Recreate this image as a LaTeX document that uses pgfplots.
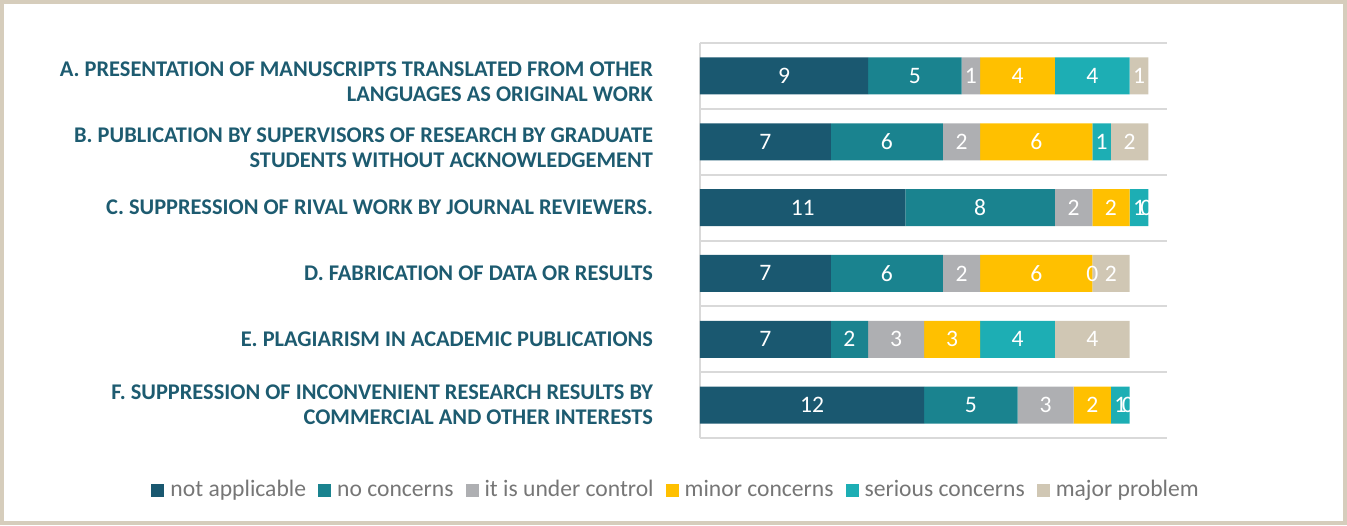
\documentclass[border=0pt]{standalone}
\usepackage{fontspec}
\setmainfont{Carlito}
\usepackage{pgfplots}
\pgfplotsset{compat=1.18}
\definecolor{cNA}{HTML}{1A5870}
\definecolor{cNo}{HTML}{1A838F}
\definecolor{cCtrl}{HTML}{AEAFB2}
\definecolor{cMinor}{HTML}{FFC000}
\definecolor{cSerious}{HTML}{1DAEB4}
\definecolor{cMajor}{HTML}{D0C7B4}
\definecolor{cLabel}{HTML}{1D5B70}
\definecolor{cGrid}{HTML}{D9D9D9}
\definecolor{cFrame}{HTML}{D6CDBC}
\definecolor{cLegend}{HTML}{767676}
\tikzset{lbl/.style={anchor=center, text=white, font=\fontsize{11.8}{13}\selectfont}}
\pgfplotsset{
  base/.style={
    at={(0,0)}, anchor=south west,
    scale only axis, width=233.5pt, height=197.5pt,
    xmin=0, xmax=25, ymin=-0.5, ymax=5.5, y dir=reverse,
    enlargelimits=false,
  },
  bars/.style={xbar stacked, bar width=18.5pt},
}
\pgfplotstableread{
y  na no ctrl minor serious major
0  9  5  1    4     4       1
1  7  6  2    6     1       2
2  11 8  2    2     1       0
3  7  6  2    6     0       2
4  7  2  3    3     4       4
5  12 5  3    2     1       0
}\data
\newcommand{\st}{\rule{0pt}{13.2pt}}
\begin{document}
\begin{tikzpicture}
\useasboundingbox (-350pt,-43.5pt) rectangle (323.5pt,219pt);
\draw[cFrame, line width=1.6pt] (-349pt,-42.5pt) rectangle (322.5pt,218pt);
\begin{axis}[
  base, bars,
  axis line style={draw=none}, tick style={draw=none},
  xtick={0}, xticklabels={}, xmajorgrids,
  ytick={0,1,2,3,4,5},
  minor ytick={-0.5,0.5,1.5,2.5,3.5,4.5,5.5}, yminorgrids,
  major grid style={cGrid, line width=1pt},
  minor grid style={cGrid, line width=1pt},
  yticklabels={
    {\st A. PRESENTATION OF MANUSCRIPTS TRANSLATED FROM OTHER\\LANGUAGES AS ORIGINAL WORK},
    {\st B. PUBLICATION BY SUPERVISORS OF RESEARCH BY GRADUATE\\STUDENTS WITHOUT ACKNOWLEDGEMENT},
    {C. SUPPRESSION OF RIVAL WORK BY JOURNAL REVIEWERS.},
    {D. FABRICATION OF DATA OR RESULTS},
    {E. PLAGIARISM IN ACADEMIC PUBLICATIONS},
    {F. SUPPRESSION OF INCONVENIENT RESEARCH RESULTS BY\\COMMERCIAL AND OTHER INTERESTS}},
  yticklabel style={align=right, anchor=east, xshift=-20pt, text=cLabel,
    font=\fontsize{11.2}{12.5}\selectfont\bfseries},
  legend style={at={(-0.049,-0.134)}, anchor=center, draw=none, fill=none,
    legend columns=6, font=\fontsize{11.8}{13}\selectfont, text=cLegend,
    nodes={text height=1.6ex, text depth=0.4ex},
    /tikz/every even column/.append style={column sep=4pt},
    /tikz/every odd column/.append style={column sep=1pt}},
  legend image code/.code={\fill[#1] (0pt,-3pt) rectangle (6.5pt,3.5pt);},
]
\addplot[fill=cNA, draw=none] table[x=na, y=y] {\data};
\addplot[fill=cNo, draw=none] table[x=no, y=y] {\data};
\addplot[fill=cCtrl, draw=none] table[x=ctrl, y=y] {\data};
\addplot[fill=cMinor, draw=none] table[x=minor, y=y] {\data};
\addplot[fill=cSerious, draw=none] table[x=serious, y=y] {\data};
\addplot[fill=cMajor, draw=none] table[x=major, y=y] {\data};
\legend{not applicable, no concerns, it is under control, minor concerns, serious concerns, major problem}
\end{axis}
\begin{axis}[
  base, bars, hide axis,
  point meta=explicit symbolic,
  nodes near coords,
  every node near coord/.append style={lbl},
]
\addplot[fill=none, draw=none] table[x=na, y=y, meta=na] {\data};
\addplot[fill=none, draw=none] table[x=no, y=y, meta=no] {\data};
\addplot[fill=none, draw=none] table[x=ctrl, y=y, meta=ctrl] {\data};
\addplot[fill=none, draw=none] table[x=minor, y=y, meta=minor] {\data};
\addplot[fill=none, draw=none] table[x=serious, y=y, meta=serious] {\data};
\addplot[fill=none, draw=none] table[x=major, y=y, meta=major] {\data};
\end{axis}
% zero-valued segments (labels at the segment boundary)
\begin{axis}[
  base, hide axis,
  point meta=explicit symbolic,
  nodes near coords,
  every node near coord/.append style={lbl},
]
\addplot[only marks, mark=none, draw=none] coordinates {(21,3) [0] (23.9,2) [0] (22.9,5) [0]};
\end{axis}
\end{tikzpicture}
\end{document}
